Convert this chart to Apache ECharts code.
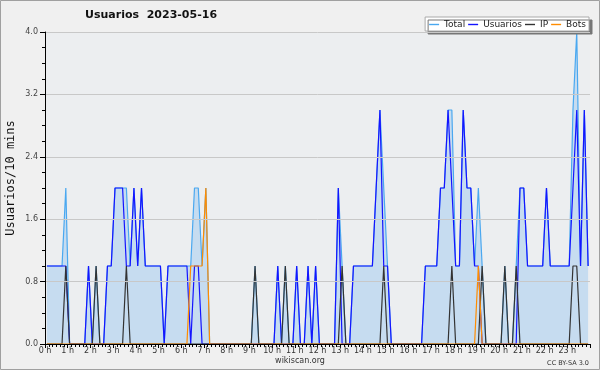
<!DOCTYPE html>
<html><head><meta charset="utf-8">
<script src="https://cdn.jsdelivr.net/npm/echarts@6/dist/echarts.min.js"></script>
<style>html,body{margin:0;padding:0;background:#f0f0f0}#c{width:600px;height:370px}</style>
</head><body><div id="c"></div>
<script>
// 10-minute slots of 2023-05-16 (144 slots), values per slot
const hourLabels = ['0 h','1 h','2 h','3 h','4 h','5 h','6 h','7 h','8 h','9 h','10 h','11 h','12 h','13 h','14 h','15 h','16 h','17 h','18 h','19 h','20 h','21 h','22 h','23 h'];
const yTicks = [0, 0.8, 1.6, 2.4, 3.2, 4.0];
const total = [
 1,1,1,1,1,2,0,0,0,0,0,1,
 0,1,0,0,1,1,2,2,2,2,1,2,
 1,2,1,1,1,1,1,0,1,1,1,1,
 1,1,1,2,2,1,2,0,0,0,0,0,
 0,0,0,0,0,0,0,1,0,0,0,0,
 0,1,0,1,0,0,1,0,0,1,0,1,
 0,0,0,0,0,2,1,0,0,1,1,1,
 1,1,1,2,3,2,1,0,0,0,0,0,
 0,0,0,0,1,1,1,1,2,2,3,3,
 1,1,3,2,2,1,2,1,0,0,0,0,
 0,1,0,0,1,2,2,1,1,1,1,1,
 2,1,1,1,1,1,1,3,4,1,3,1];
const usuarios = [
 1,1,1,1,1,1,0,0,0,0,0,1,
 0,0,0,0,1,1,2,2,2,1,1,2,
 1,2,1,1,1,1,1,0,1,1,1,1,
 1,1,0,1,1,0,0,0,0,0,0,0,
 0,0,0,0,0,0,0,0,0,0,0,0,
 0,1,0,0,0,0,1,0,0,1,0,1,
 0,0,0,0,0,2,0,0,0,1,1,1,
 1,1,1,2,3,1,1,0,0,0,0,0,
 0,0,0,0,1,1,1,1,2,2,3,2,
 1,1,3,2,2,1,1,0,0,0,0,0,
 0,0,0,0,0,2,2,1,1,1,1,1,
 2,1,1,1,1,1,1,2,3,1,3,1];
const ip = [
 0,0,0,0,0,1,0,0,0,0,0,0,
 0,1,0,0,0,0,0,0,0,1,0,0,
 0,0,0,0,0,0,0,0,0,0,0,0,
 0,0,0,0,0,0,0,0,0,0,0,0,
 0,0,0,0,0,0,0,1,0,0,0,0,
 0,0,0,1,0,0,0,0,0,0,0,0,
 0,0,0,0,0,0,1,0,0,0,0,0,
 0,0,0,0,0,1,0,0,0,0,0,0,
 0,0,0,0,0,0,0,0,0,0,0,1,
 0,0,0,0,0,0,0,1,0,0,0,0,
 0,1,0,0,1,0,0,0,0,0,0,0,
 0,0,0,0,0,0,0,1,1,0,0,0];
const bots = [
 0,0,0,0,0,0,0,0,0,0,0,0,
 0,0,0,0,0,0,0,0,0,0,0,0,
 0,0,0,0,0,0,0,0,0,0,0,0,
 0,0,1,1,1,1,2,0,0,0,0,0,
 0,0,0,0,0,0,0,0,0,0,0,0,
 0,0,0,0,0,0,0,0,0,0,0,0,
 0,0,0,0,0,0,0,0,0,0,0,0,
 0,0,0,0,0,0,0,0,0,0,0,0,
 0,0,0,0,0,0,0,0,0,0,0,0,
 0,0,0,0,0,0,1,0,0,0,0,0,
 0,0,0,0,0,0,0,0,0,0,0,0,
 0,0,0,0,0,0,0,0,0,0,0,0];

const toPts = arr => arr.map((v, i) => [i + 0.5, v]);
const chart = echarts.init(document.getElementById('c'), null, {renderer: 'canvas'});
const lineSeries = (name, data, color, extra) => Object.assign({
  name, type: 'line', data: toPts(data), symbol: 'none', showSymbol: false,
  lineStyle: {color, width: 1.2}, itemStyle: {color}, animation: false, z: 2
}, extra || {});

chart.setOption({
  backgroundColor: '#f0f0f0',
  animation: false,
  title: {
    text: 'Usuarios  2023-05-16', left: 85, top: 10, padding: 0,
    textStyle: {fontSize: 11, fontWeight: 'bold', fontFamily: 'DejaVu Sans', color: '#111'}
  },
  legend: {
    right: 11, top: 17, orient: 'horizontal',
    backgroundColor: '#fff', borderColor: '#aaa', borderWidth: 1,
    shadowColor: '#777', shadowOffsetX: 3, shadowOffsetY: 3, shadowBlur: 0,
    padding: [3, 3, 2, 4], itemGap: 3, itemWidth: 10, itemHeight: 1.4, icon: 'rect',
    textStyle: {fontSize: 9, fontFamily: 'DejaVu Sans', color: '#222'},
    data: ['Total', 'Usuarios', 'IP', 'Bots']
  },
  grid: {left: 45, right: 10, top: 32, bottom: 26, show: true, backgroundColor: '#eceef0', borderWidth: 0},
  xAxis: {
    type: 'value', min: 0, max: 144, interval: 6, z: 10,
    axisLine: {lineStyle: {color: '#000', width: 1}},
    axisTick: {show: true, length: 4, lineStyle: {color: '#000'}},
    minorTick: {show: true, splitNumber: 6, length: 3, lineStyle: {color: '#000'}},
    splitLine: {show: false},
    axisLabel: {
      margin: 3, fontSize: 8, fontFamily: 'DejaVu Sans', color: '#333', showMaxLabel: false,
      formatter: v => hourLabels[Math.round(v / 6)] || ''
    }
  },
  yAxis: {
    type: 'value', min: yTicks[0], max: yTicks[yTicks.length - 1], interval: 0.8, z: 10,
    axisLine: {show: true, lineStyle: {color: '#000', width: 1}},
    axisTick: {show: true, length: 5, lineStyle: {color: '#000'}},
    minorTick: {show: true, splitNumber: 4, length: 3, lineStyle: {color: '#000'}},
    splitLine: {show: true, lineStyle: {color: '#c8c8c8', width: 1}},
    axisLabel: {margin: 7, fontSize: 8, fontFamily: 'DejaVu Sans', color: '#444', formatter: v => v.toFixed(1)}
  },
  series: [
    lineSeries('Total', total, '#4aa8f0', {areaStyle: {color: '#c6dcf0', opacity: 1}}),
    lineSeries('Usuarios', usuarios, '#1414ff'),
    lineSeries('IP', ip, '#333333'),
    lineSeries('Bots', bots, '#ff8c00')
  ],
  graphic: [
    {type: 'rect', silent: true, z: 100, shape: {x: 0.5, y: 0.5, width: 599, height: 369}, style: {fill: 'none', stroke: '#a0a0a0', lineWidth: 1}},
    {type: 'text', silent: true, x: 10.5, y: 178, rotation: Math.PI / 2,
      style: {text: 'Usuarios/10 mins', textAlign: 'center', textVerticalAlign: 'middle', font: '12px "DejaVu Sans Mono"', fill: '#111'}},
    {type: 'text', silent: true, x: 300, y: 361,
      style: {text: 'wikiscan.org', textAlign: 'center', textVerticalAlign: 'middle', font: '8px "DejaVu Sans"', fill: '#333'}},
    {type: 'text', silent: true, x: 589, y: 363,
      style: {text: 'CC BY-SA 3.0', textAlign: 'right', textVerticalAlign: 'middle', font: '6.5px "DejaVu Sans"', fill: '#333'}}
  ]
});
</script>
</body></html>
